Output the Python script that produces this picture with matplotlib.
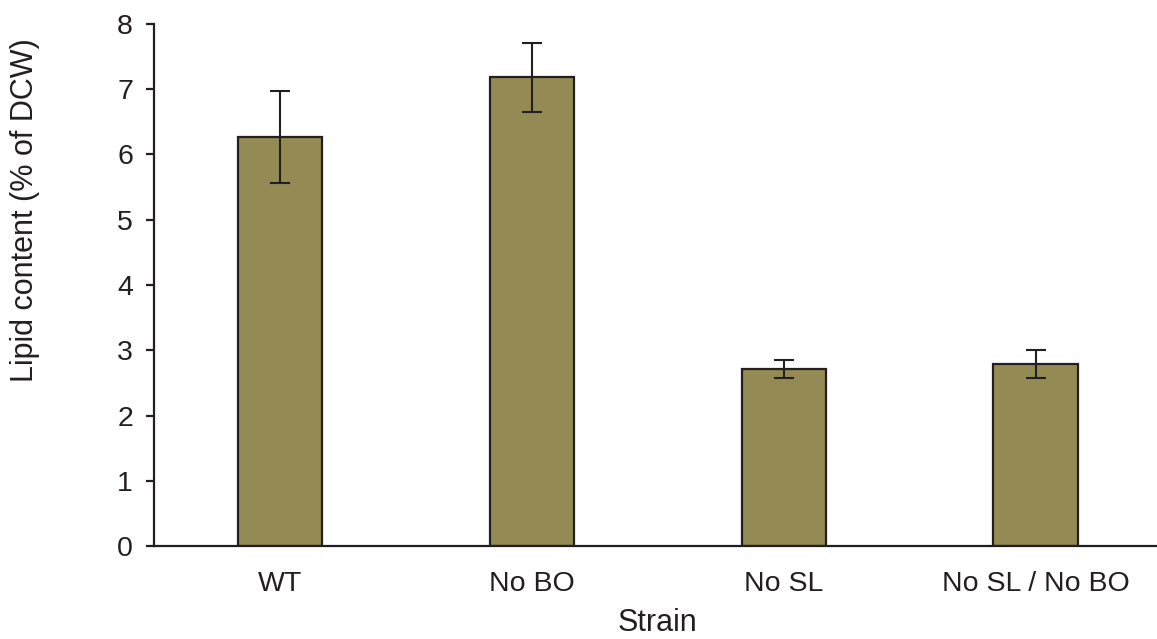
import numpy as np
import matplotlib.pyplot as plt

# Datos del gráfico
strains = ['WT', 'No BO', 'No SL', 'No SL / No BO']
lipid = [6.27, 7.18, 2.71, 2.79]
err = [0.70, 0.53, 0.14, 0.21]

plt.rcParams['font.family'] = ['Liberation Sans', 'DejaVu Sans']

fig = plt.figure(figsize=(11.57, 6.39), dpi=100)
ax = fig.add_axes([0.133, 0.1455, 0.871, 0.817])

x = np.arange(len(strains))
ax.bar(x, lipid, width=0.335, color='#948A54', edgecolor='#231f20', linewidth=1.6,
       yerr=err, capsize=7, error_kw=dict(ecolor='#231f20', elinewidth=1.5, capthick=1.5))

ax.set_xlim(-0.5, 3.5)
ax.set_ylim(0, 8)
ax.set_yticks(range(0, 9))
ax.set_xticks(x)
ax.set_xticklabels(strains)

for s in ['top', 'right']:
    ax.spines[s].set_visible(False)
for s in ['left', 'bottom']:
    ax.spines[s].set_linewidth(1.6)
    ax.spines[s].set_color('#231f20')

ax.tick_params(axis='y', length=6, width=1.6, color='#231f20', labelsize=20.5, pad=9,
               labelcolor='#231f20')
ax.tick_params(axis='x', length=0, labelsize=20.5, pad=18, labelcolor='#231f20')

ax.set_xlabel('Strain', fontsize=22, labelpad=8, color='#231f20')
ax.set_ylabel('Lipid content (% of DCW)', fontsize=22, color='#231f20')
ax.yaxis.set_label_coords(-0.113, 0.644)

fig.savefig('out.png', dpi=100)
